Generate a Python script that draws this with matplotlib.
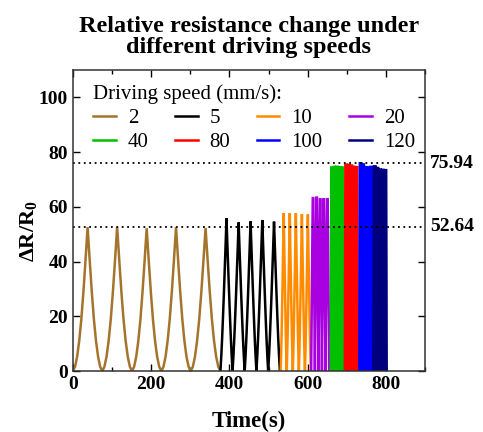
import numpy as np
import matplotlib
matplotlib.use('Agg')
import matplotlib.pyplot as plt
from matplotlib.ticker import MultipleLocator
import matplotlib.transforms as mtransforms

plt.rcParams['font.family'] = ['Liberation Serif', 'DejaVu Serif']
plt.rcParams['mathtext.fontset'] = 'custom'
plt.rcParams['mathtext.rm'] = 'Liberation Serif:bold'
plt.rcParams['mathtext.bf'] = 'Liberation Serif:bold'
plt.rcParams['mathtext.it'] = 'Liberation Serif:bold'

# ---- data ----
speed_labels = ['2', '5', '10', '20', '40', '80', '100', '120']
colors = ['#A5742C', '#000000', '#FF8C00', '#A800E0', '#00C000', '#FF0000', '#0000FF', '#00007F']

valleys_2 = [0, 75, 151, 226, 301, 377]
peaks_2 = [52.6, 52.6, 52.2, 52.6, 52.3]
valleys_5 = [377, 408, 439, 469, 499, 529]
peaks_5 = [55.8, 54.3, 54.7, 55.2, 54.6]
valleys_10 = [531, 546.5, 562, 577.5, 593, 608]
peaks_10 = [57.7, 57.7, 57.7, 57.3, 57.2]
valleys_20 = [609, 618.5, 627.5, 636.5, 645.5, 655]
peaks_20 = [63.2, 63.4, 62.8, 62.8, 62.8]
valleys_40 = [659, 665.4, 671.8, 678.2, 684.6, 691]
peaks_40 = [74.4, 74.6, 74.6, 74.5, 74.4]
valleys_80 = [695, 701.6, 708.2, 714.8, 721.4, 728]
peaks_80 = [75.4, 75.3, 75.1, 74.6, 74.5]
valleys_100 = [732, 738.6, 745.2, 751.8, 758.4, 765]
peaks_100 = [75.94, 75.5, 74.5, 74.4, 74.6]
valleys_120 = [768, 774.8, 781.6, 788.4, 795.2, 802]
peaks_120 = [74.8, 74.2, 73.6, 73.5, 73.4]

# normalized rise shapes of one half cycle
rise_slow = [0.0, 0.03, 0.10, 0.21, 0.36, 0.55, 0.77, 1.0]
rise_mid = [0.0, 0.10, 0.22, 0.36, 0.51, 0.67, 0.83, 1.0]
rise_fast = [0.0, 0.35, 0.70, 1.0]
hold_frac = [0.0, 0.0, 0.0, 0.15, 0.6, 0.6, 0.6, 0.6]
ref_levels = [75.94, 52.64]

all_valleys = [valleys_2, valleys_5, valleys_10, valleys_20,
               valleys_40, valleys_80, valleys_100, valleys_120]
all_peaks = [peaks_2, peaks_5, peaks_10, peaks_20,
             peaks_40, peaks_80, peaks_100, peaks_120]
all_rise = [rise_slow, rise_mid, rise_mid, rise_fast,
            rise_fast, rise_fast, rise_fast, rise_fast]


def build(valleys, peaks, rise, hold):
    xs, ys = [], []
    r = np.array(rise)
    f = np.linspace(0, 1, len(r))
    for i, p in enumerate(peaks):
        t0, t1 = valleys[i], valleys[i + 1]
        d = t1 - t0
        tr = d * (1 - hold) / 2
        xs += list(t0 + f * tr) + list(t1 - tr + f * tr)
        ys += list(r * p) + list(r[::-1] * p)
    return xs, ys


fig = plt.figure(figsize=(4.83, 4.32), dpi=100)
ax = fig.add_axes([0.151, 0.141, 0.729, 0.697])

handles = []
for lab, col, v, p, r, h in zip(speed_labels, colors, all_valleys, all_peaks, all_rise, hold_frac):
    xs, ys = build(v, p, r, h)
    ln, = ax.plot(xs, ys, color=col, lw=1.8, label=lab, solid_joinstyle='miter')
    handles.append(ln)

trans = mtransforms.blended_transform_factory(ax.transAxes, ax.transData)
for lev in ref_levels:
    ax.axhline(lev, color='black', ls=(0, (1, 2.0)), lw=1.3)
    ax.text(1.015, lev, f'{lev:.2f}', transform=trans, fontsize=14, fontweight='bold',
            va='center', ha='left', clip_on=False)

ax.set_xlim(0, 900)
ax.set_ylim(0, 110)
ax.xaxis.set_major_locator(MultipleLocator(200))
ax.xaxis.set_minor_locator(MultipleLocator(100))
ax.yaxis.set_major_locator(MultipleLocator(20))
ax.tick_params(which='both', direction='in', top=True, right=True, labelsize=14, width=1)
ax.tick_params(which='major', length=5)
ax.tick_params(which='minor', length=3)
for lbl in ax.get_xticklabels() + ax.get_yticklabels():
    lbl.set_fontweight('bold')
for s in ax.spines.values():
    s.set_linewidth(1.1)
    s.set_color('#333333')

ax.set_xlabel('Time(s)', fontsize=16.5, fontweight='bold', labelpad=13)
ax.set_ylabel(r'$\Delta$R/R$_0$', fontsize=16, fontweight='bold')
ax.yaxis.set_label_coords(-0.095, 0.465)
ax.set_title('Relative resistance change under\ndifferent driving speeds',
             fontsize=17.5, fontweight='bold', pad=12, linespacing=1.05)

order = [0, 4, 1, 5, 2, 6, 3, 7]
ax.legend([handles[i] for i in order], [speed_labels[i] for i in order],
          ncol=4, title='Driving speed (mm/s):', loc='upper left', frameon=False,
          fontsize=15, title_fontsize=15, alignment='left', handlelength=1.1,
          handletextpad=0.58, columnspacing=1.25, labelspacing=0.2,
          borderaxespad=0.4, borderpad=0.3, bbox_to_anchor=(0.015, 1.0))

fig.savefig('out.png', dpi=100)
